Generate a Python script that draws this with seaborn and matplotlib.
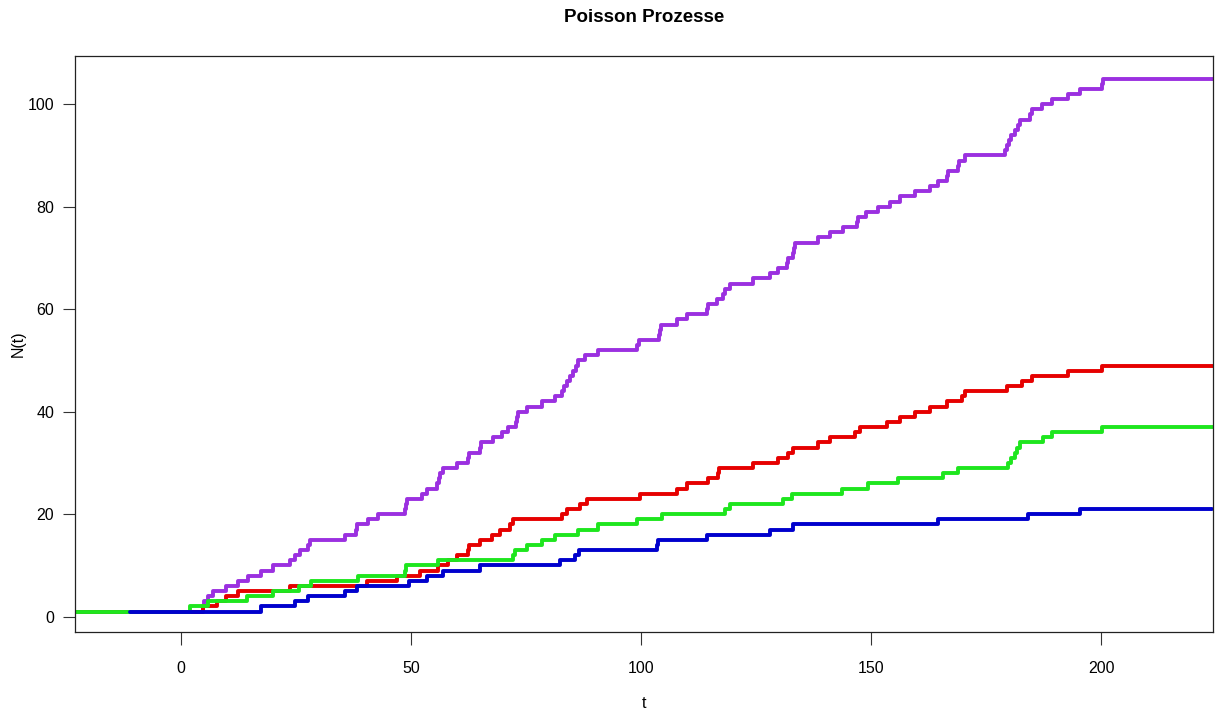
import pandas as pd
import matplotlib
matplotlib.use('Agg')
import matplotlib.pyplot as plt
import seaborn as sns

# Sprungzeiten und Zählerstand N(t) der vier Prozesse
lila_t = [-30, 4.8, 5.0, 5.9, 7.0, 9.9, 12.4, 14.6, 17.5, 20.0, 23.7, 24.8, 26.0, 27.6, 28.0,
          35.7, 38.0, 38.2, 40.7, 42.9, 48.7, 48.9, 49.1, 52.4, 53.5, 55.7, 56.0, 56.4, 57.0,
          60.0, 62.4, 62.6, 65.0, 65.2, 67.8, 69.8, 71.1, 72.8, 73.0, 73.2, 75.2, 78.5, 81.3,
          82.8, 83.2, 83.9, 84.5, 85.2, 85.8, 86.3, 87.8, 90.7, 99.1, 99.5, 104.0, 104.2, 104.4,
          107.8, 110.0, 114.3, 114.5, 116.5, 117.8, 118.2, 119.3, 124.3, 128.0, 129.8, 131.8,
          132.0, 133.0, 133.2, 133.4, 138.5, 141.0, 143.9, 147.0, 147.2, 148.9, 151.5, 154.1,
          156.3, 159.6, 162.8, 164.6, 166.5, 166.8, 168.9, 169.2, 170.4, 179.1, 179.5, 180.0,
          180.5, 181.2, 182.0, 182.4, 184.6, 184.9, 187.2, 189.3, 192.8, 195.4, 200.2, 200.4, 230]
lila_n = [1, 2, 3, 4, 5, 6, 7, 8, 9, 10, 11, 12, 13, 14, 15,
          16, 17, 18, 19, 20, 21, 22, 23, 24, 25, 26, 27, 28, 29,
          30, 31, 32, 33, 34, 35, 36, 37, 38, 39, 40, 41, 42, 43,
          44, 45, 46, 47, 48, 49, 50, 51, 52, 53, 54, 55, 56, 57,
          58, 59, 60, 61, 62, 63, 64, 65, 66, 67, 68, 69,
          70, 71, 72, 73, 74, 75, 76, 77, 78, 79, 80, 81,
          82, 83, 84, 85, 86, 87, 88, 89, 90, 91, 92, 93,
          94, 95, 96, 97, 98, 99, 100, 101, 102, 103, 104, 105, 105]

rot_t = [-30, 4.8, 7.8, 9.9, 12.4, 23.7, 40.4, 47.0, 52.0, 55.9, 58.0, 60.0, 62.4, 62.6,
         65.0, 67.6, 69.3, 71.5, 72.2, 82.8, 83.9, 86.7, 88.3, 99.8, 107.8, 110.0, 114.6,
         116.7, 117.0, 124.3, 129.8, 132.0, 133.0, 138.5, 141.0, 146.5, 147.6, 153.5, 156.3,
         159.6, 162.8, 166.5, 169.8, 170.4, 179.6, 182.8, 185.0, 192.8, 200.2, 230]
rot_n = [1, 2, 3, 4, 5, 6, 7, 8, 9, 10, 11, 12, 13, 14,
         15, 16, 17, 18, 19, 20, 21, 22, 23, 24, 25, 26, 27,
         28, 29, 30, 31, 32, 33, 34, 35, 36, 37, 38, 39,
         40, 41, 42, 43, 44, 45, 46, 47, 48, 49, 49]

gruen_t = [-30, 2.0, 5.9, 14.3, 20.0, 25.6, 28.3, 38.5, 48.7, 49.0, 55.9, 72.2, 72.6, 75.2,
           78.5, 81.3, 86.3, 90.7, 99.1, 104.6, 118.3, 119.3, 130.9, 132.8, 143.7, 149.3,
           155.9, 165.6, 168.9, 179.8, 180.5, 181.2, 181.8, 182.3, 187.4, 189.3, 200.2, 230]
gruen_n = [1, 2, 3, 4, 5, 6, 7, 8, 9, 10, 11, 12, 13, 14,
           15, 16, 17, 18, 19, 20, 21, 22, 23, 24, 25, 26,
           27, 28, 29, 30, 31, 32, 33, 34, 35, 36, 37, 37]

blau_t = [-11, 17.5, 24.8, 27.6, 35.7, 38.2, 49.5, 53.4, 57.0, 65.0, 82.4, 85.6, 86.5,
          103.5, 103.8, 114.3, 128.0, 133.0, 164.6, 184.0, 195.4, 224.0]
blau_n = [1, 2, 3, 4, 5, 6, 7, 8, 9, 10, 11, 12, 13,
          14, 15, 16, 17, 18, 19, 20, 21, 21]

prozesse = [
    ('lila', lila_t, lila_n, '#9B30E0'),
    ('rot', rot_t, rot_n, '#E60000'),
    ('gruen', gruen_t, gruen_n, '#1EE61E'),
    ('blau', blau_t, blau_n, '#0000CD'),
]

sns.set_style('white')
plt.rcParams['font.family'] = ['Liberation Sans', 'DejaVu Sans']

fig = plt.figure(figsize=(12.16, 7.12), dpi=100)
ax = fig.add_axes([75 / 1216, 1 - 632 / 712, (1213 - 75) / 1216, (632 - 56) / 712])

for name, t, n, farbe in prozesse:
    df = pd.DataFrame({'t': t, 'N': n})
    sns.lineplot(data=df, x='t', y='N', ax=ax, color=farbe, linewidth=2.8,
                 drawstyle='steps-post', estimator=None, sort=False)

ax.set_xlim(-23.0, 224.3)
ax.set_ylim(-3.0, 109.4)
ax.set_xticks([0, 50, 100, 150, 200])
ax.set_yticks([0, 20, 40, 60, 80, 100])
ax.tick_params(axis='x', bottom=True, length=9, width=0.8, pad=12, labelsize=11.5,
               color='#333333', labelcolor='black')
ax.tick_params(axis='y', left=True, length=9, width=0.8, pad=6, labelsize=11.5,
               color='#333333', labelcolor='black')
for s in ax.spines.values():
    s.set_color('#222222')
    s.set_linewidth(0.9)
ax.set_xlabel('')
ax.set_ylabel('')

fig.text(644 / 1216, 1 - 18 / 712, 'Poisson Prozesse', ha='center', va='center',
         fontsize=13.5, fontweight='bold', color='black')
fig.text(644 / 1216, 1 - 704 / 712, 't', ha='center', va='center', fontsize=11.5, color='black')
fig.text(18 / 1216, 1 - 344 / 712, 'N(t)', ha='center', va='center', rotation=90,
         fontsize=11.5, color='black')

fig.savefig('out.png', dpi=100)
